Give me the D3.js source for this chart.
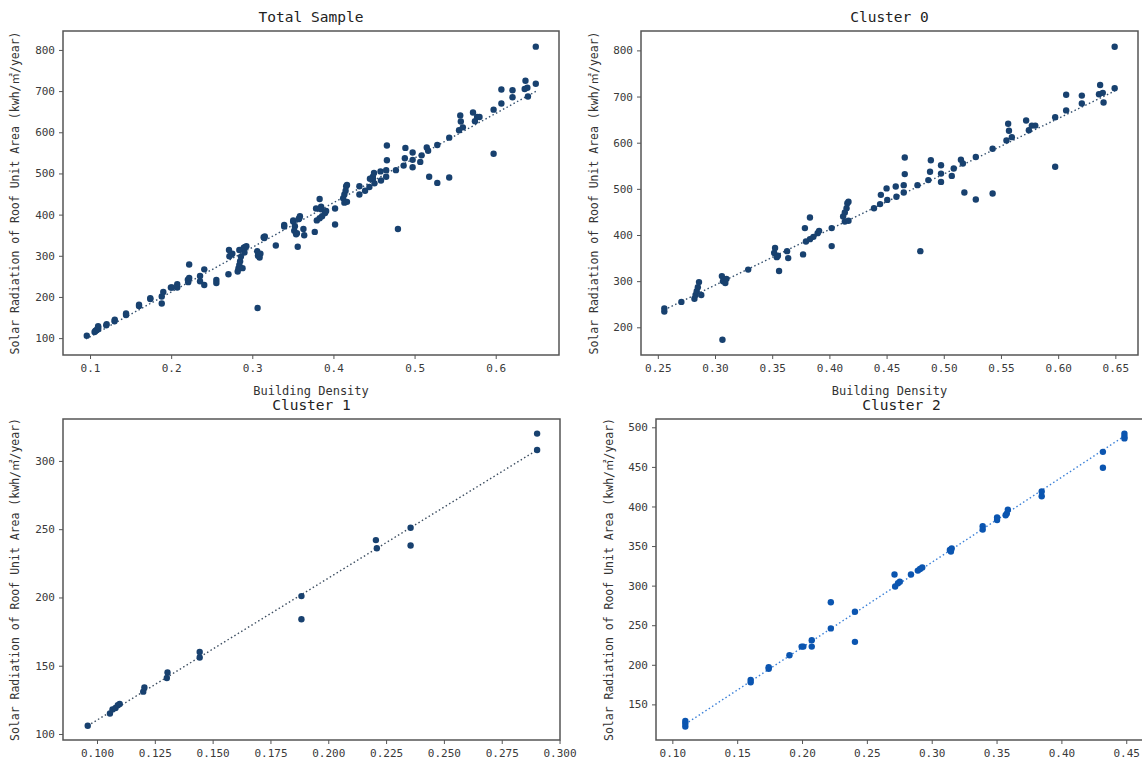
<!DOCTYPE html>
<html>
<head>
<meta charset="utf-8">
<script src="https://cdn.jsdelivr.net/npm/d3@7"></script>
<style>
  body { margin: 0; background: #fff; }
  svg text { font-family: "DejaVu Sans Mono", "Liberation Mono", "Noto Sans CJK SC", monospace; }
</style>
</head>
<body>
<div id="canvas"></div>
<script>
// values
const cluster0X = [0.2557, 0.2557, 0.2706, 0.282, 0.283, 0.284, 0.285, 0.286, 0.288,
  0.3065, 0.306, 0.307, 0.309, 0.31, 0.329,
  0.3525, 0.3517, 0.355, 0.354, 0.356, 0.363, 0.364, 0.377, 0.3786, 0.383,
  0.3795, 0.383, 0.386, 0.3897, 0.391, 0.402, 0.402,
  0.412, 0.4135, 0.4157, 0.4167, 0.415, 0.4135, 0.4167,
  0.439, 0.4443, 0.445, 0.45, 0.4506, 0.458, 0.4586, 0.465, 0.465, 0.4659, 0.4659,
  0.477, 0.4795, 0.4865, 0.488, 0.4887, 0.4976, 0.4976, 0.4976,
  0.507, 0.5087, 0.515, 0.5167, 0.518, 0.528, 0.528, 0.5427, 0.5427,
  0.5548, 0.5563, 0.557, 0.5595, 0.572, 0.5744, 0.577, 0.58,
  0.5974, 0.5974, 0.607, 0.607, 0.6207, 0.6207, 0.6357, 0.6367, 0.639, 0.6397, 0.6494, 0.6494];
const cluster0Y = [241, 234, 255, 262, 270, 278, 287, 298, 270,
  173, 311, 300, 296, 305, 325,
  372, 361, 355, 352, 322, 365, 350, 358, 415, 438,
  386, 391, 396, 404, 409, 415, 376,
  440, 449, 469, 472, 458, 429, 431,
  458, 467, 487, 501, 476, 505, 483, 508, 492, 532, 568,
  508, 365, 519, 537, 562, 551, 533, 515,
  528, 544, 563, 555, 492, 477, 569, 490, 587,
  605, 641, 626, 612, 648, 627, 637, 637,
  655, 548, 670, 704, 685, 702, 705, 725, 708, 687, 718, 808];

const cluster1X = [0.096, 0.1056, 0.1067, 0.108, 0.109, 0.1098, 0.120, 0.1205,
  0.1302, 0.1305, 0.1444, 0.1444, 0.1884, 0.1884, 0.2206, 0.221, 0.2356, 0.2356, 0.2903, 0.2903];
const cluster1Y = [106, 115, 118, 119, 121, 122, 131, 134,
  141, 145, 156, 160, 201, 184, 242, 236, 251, 238, 320, 308];

const cluster2X = [0.11, 0.11, 0.11, 0.1604, 0.1604, 0.1743, 0.1743, 0.1903, 0.1997, 0.201,
  0.2075, 0.2075, 0.2222, 0.2222, 0.2408, 0.2408, 0.2713, 0.2718, 0.274, 0.2754,
  0.284, 0.2893, 0.291, 0.2927, 0.314, 0.3154, 0.3148, 0.3393, 0.3393, 0.3504, 0.3504,
  0.3579, 0.3587, 0.357, 0.3848, 0.3848, 0.432, 0.432, 0.4486, 0.4486, 0.4486];
const cluster2Y = [122, 126, 129, 178, 181, 195, 197, 212, 223, 223,
  231, 223, 246, 279, 267, 229, 314, 299, 303, 305,
  314, 319, 321, 323, 345, 347, 343, 375, 371, 386, 383,
  391, 396, 389, 419, 413, 469, 449, 492, 488, 486];

// dotted fit lines, end points
const fitTotal = [[0.095, 98], [0.65, 700]];
const fit0 = [[0.2557, 238], [0.6494, 712]];
const fit1 = [[0.096, 106], [0.2903, 308]];
const fit2 = [[0.11, 125], [0.4486, 489]];

// tick labels
const ticksTotalX = [0.1, 0.2, 0.3, 0.4, 0.5, 0.6];
const ticksTotalY = [100, 200, 300, 400, 500, 600, 700, 800];
const ticks0X = [0.25, 0.30, 0.35, 0.40, 0.45, 0.50, 0.55, 0.60, 0.65];
const ticks0Y = [200, 300, 400, 500, 600, 700, 800];
const ticks1X = [0.100, 0.125, 0.150, 0.175, 0.200, 0.225, 0.250, 0.275, 0.300];
const ticks1Y = [100, 150, 200, 250, 300];
const ticks2X = [0.10, 0.15, 0.20, 0.25, 0.30, 0.35, 0.40, 0.45];
const ticks2Y = [150, 200, 250, 300, 350, 400, 450, 500];

const titles = ["Total Sample", "Cluster 0", "Cluster 1", "Cluster 2"];
const xLabel = "Building Density";
const yLabel = "Solar Radiation of Roof Unit Area (kwh/㎡/year)";

const toPoints = (xs, ys) => xs.map((x, i) => ({ x: x, y: ys[i] }));
const pts0 = toPoints(cluster0X, cluster0Y);
const pts1 = toPoints(cluster1X, cluster1Y);
const pts2 = toPoints(cluster2X, cluster2Y);
const ptsTotal = pts1.concat(pts2, pts0);

const svg = d3.select("#canvas")
  .append("svg")
  .attr("width", 1142)
  .attr("height", 766);

// bottom row x labels fall below the picture, so only the top row gets one
const panels = [
  { title: titles[0], pts: ptsTotal, fit: fitTotal, left: 63, top: 31, right: 559, bottom: 355,
    xd: [0.0667, 0.678], yd: [59, 846], xt: ticksTotalX, yt: ticksTotalY, xf: ".1f", yLabX: 15,
    dot: "#18416f", line: "#34506e", xlab: true },
  { title: titles[1], pts: pts0, fit: fit0, left: 641, top: 31, right: 1138, bottom: 355,
    xd: [0.2353, 0.6698], yd: [140, 842], xt: ticks0X, yt: ticks0Y, xf: ".2f", yLabX: 594,
    dot: "#18416f", line: "#34506e", xlab: true },
  { title: titles[2], pts: pts1, fit: fit1, left: 63, top: 419, right: 560, bottom: 740,
    xd: [0.0853, 0.3002], yd: [95.6, 330.7], xt: ticks1X, yt: ticks1Y, xf: ".3f", yLabX: 15,
    dot: "#18416f", line: "#3c4d60", xlab: false },
  { title: titles[3], pts: pts2, fit: fit2, left: 656, top: 419, right: 1147, bottom: 740,
    xd: [0.0874, 0.466], yd: [105, 510.5], xt: ticks2X, yt: ticks2Y, xf: ".2f", yLabX: 609,
    dot: "#0b55b0", line: "#3b80d8", xlab: false }
];

panels.forEach(p => {
  const x = d3.scaleLinear().domain(p.xd).range([p.left, p.right]);
  const y = d3.scaleLinear().domain(p.yd).range([p.bottom, p.top]);
  const g = svg.append("g");

  // dotted regression line
  g.append("path")
    .datum(p.fit)
    .attr("fill", "none")
    .attr("stroke", p.line)
    .attr("stroke-width", 1.4)
    .attr("stroke-dasharray", "1.5,2.5")
    .attr("d", d3.line().x(d => x(d[0])).y(d => y(d[1])));

  g.append("g")
    .selectAll("circle")
    .data(p.pts)
    .join("circle")
    .attr("cx", d => x(d.x))
    .attr("cy", d => y(d.y))
    .attr("r", 3.2)
    .attr("fill", p.dot);

  // axes
  const ax = g.append("g")
    .attr("transform", `translate(0,${p.bottom})`)
    .call(d3.axisBottom(x).tickValues(p.xt).tickFormat(d3.format(p.xf)).tickSizeOuter(0).tickSize(4).tickPadding(5));
  const ay = g.append("g")
    .attr("transform", `translate(${p.left},0)`)
    .call(d3.axisLeft(y).tickValues(p.yt).tickFormat(d3.format("d")).tickSizeOuter(0).tickSize(4).tickPadding(4));
  [ax, ay].forEach(a => {
    a.select(".domain").remove();
    a.selectAll("line").attr("stroke", "#555");
    a.selectAll("text")
      .attr("fill", "#3a3a3a")
      .style("font-size", "11px");
  });

  // frame
  g.append("rect")
    .attr("x", p.left)
    .attr("y", p.top)
    .attr("width", p.right - p.left)
    .attr("height", p.bottom - p.top)
    .attr("fill", "none")
    .attr("stroke", "#555")
    .attr("stroke-width", 1.5);

  const cx = (p.left + p.right) / 2;
  g.append("text")
    .attr("x", cx)
    .attr("y", p.top - 14)
    .attr("text-anchor", "middle")
    .attr("dominant-baseline", "central")
    .attr("fill", "#222")
    .style("font-size", "14.5px")
    .text(p.title);

  if (p.xlab) {
    g.append("text")
      .attr("x", cx)
      .attr("y", p.bottom + 36)
      .attr("text-anchor", "middle")
      .attr("dominant-baseline", "central")
      .attr("fill", "#333")
      .style("font-size", "12px")
      .text(xLabel);
  }

  g.append("text")
    .attr("transform", `translate(${p.yLabX},${(p.top + p.bottom) / 2}) rotate(-90)`)
    .attr("text-anchor", "middle")
    .attr("dominant-baseline", "central")
    .attr("fill", "#333")
    .style("font-size", "11.5px")
    .text(yLabel);
});
</script>
</body>
</html>
